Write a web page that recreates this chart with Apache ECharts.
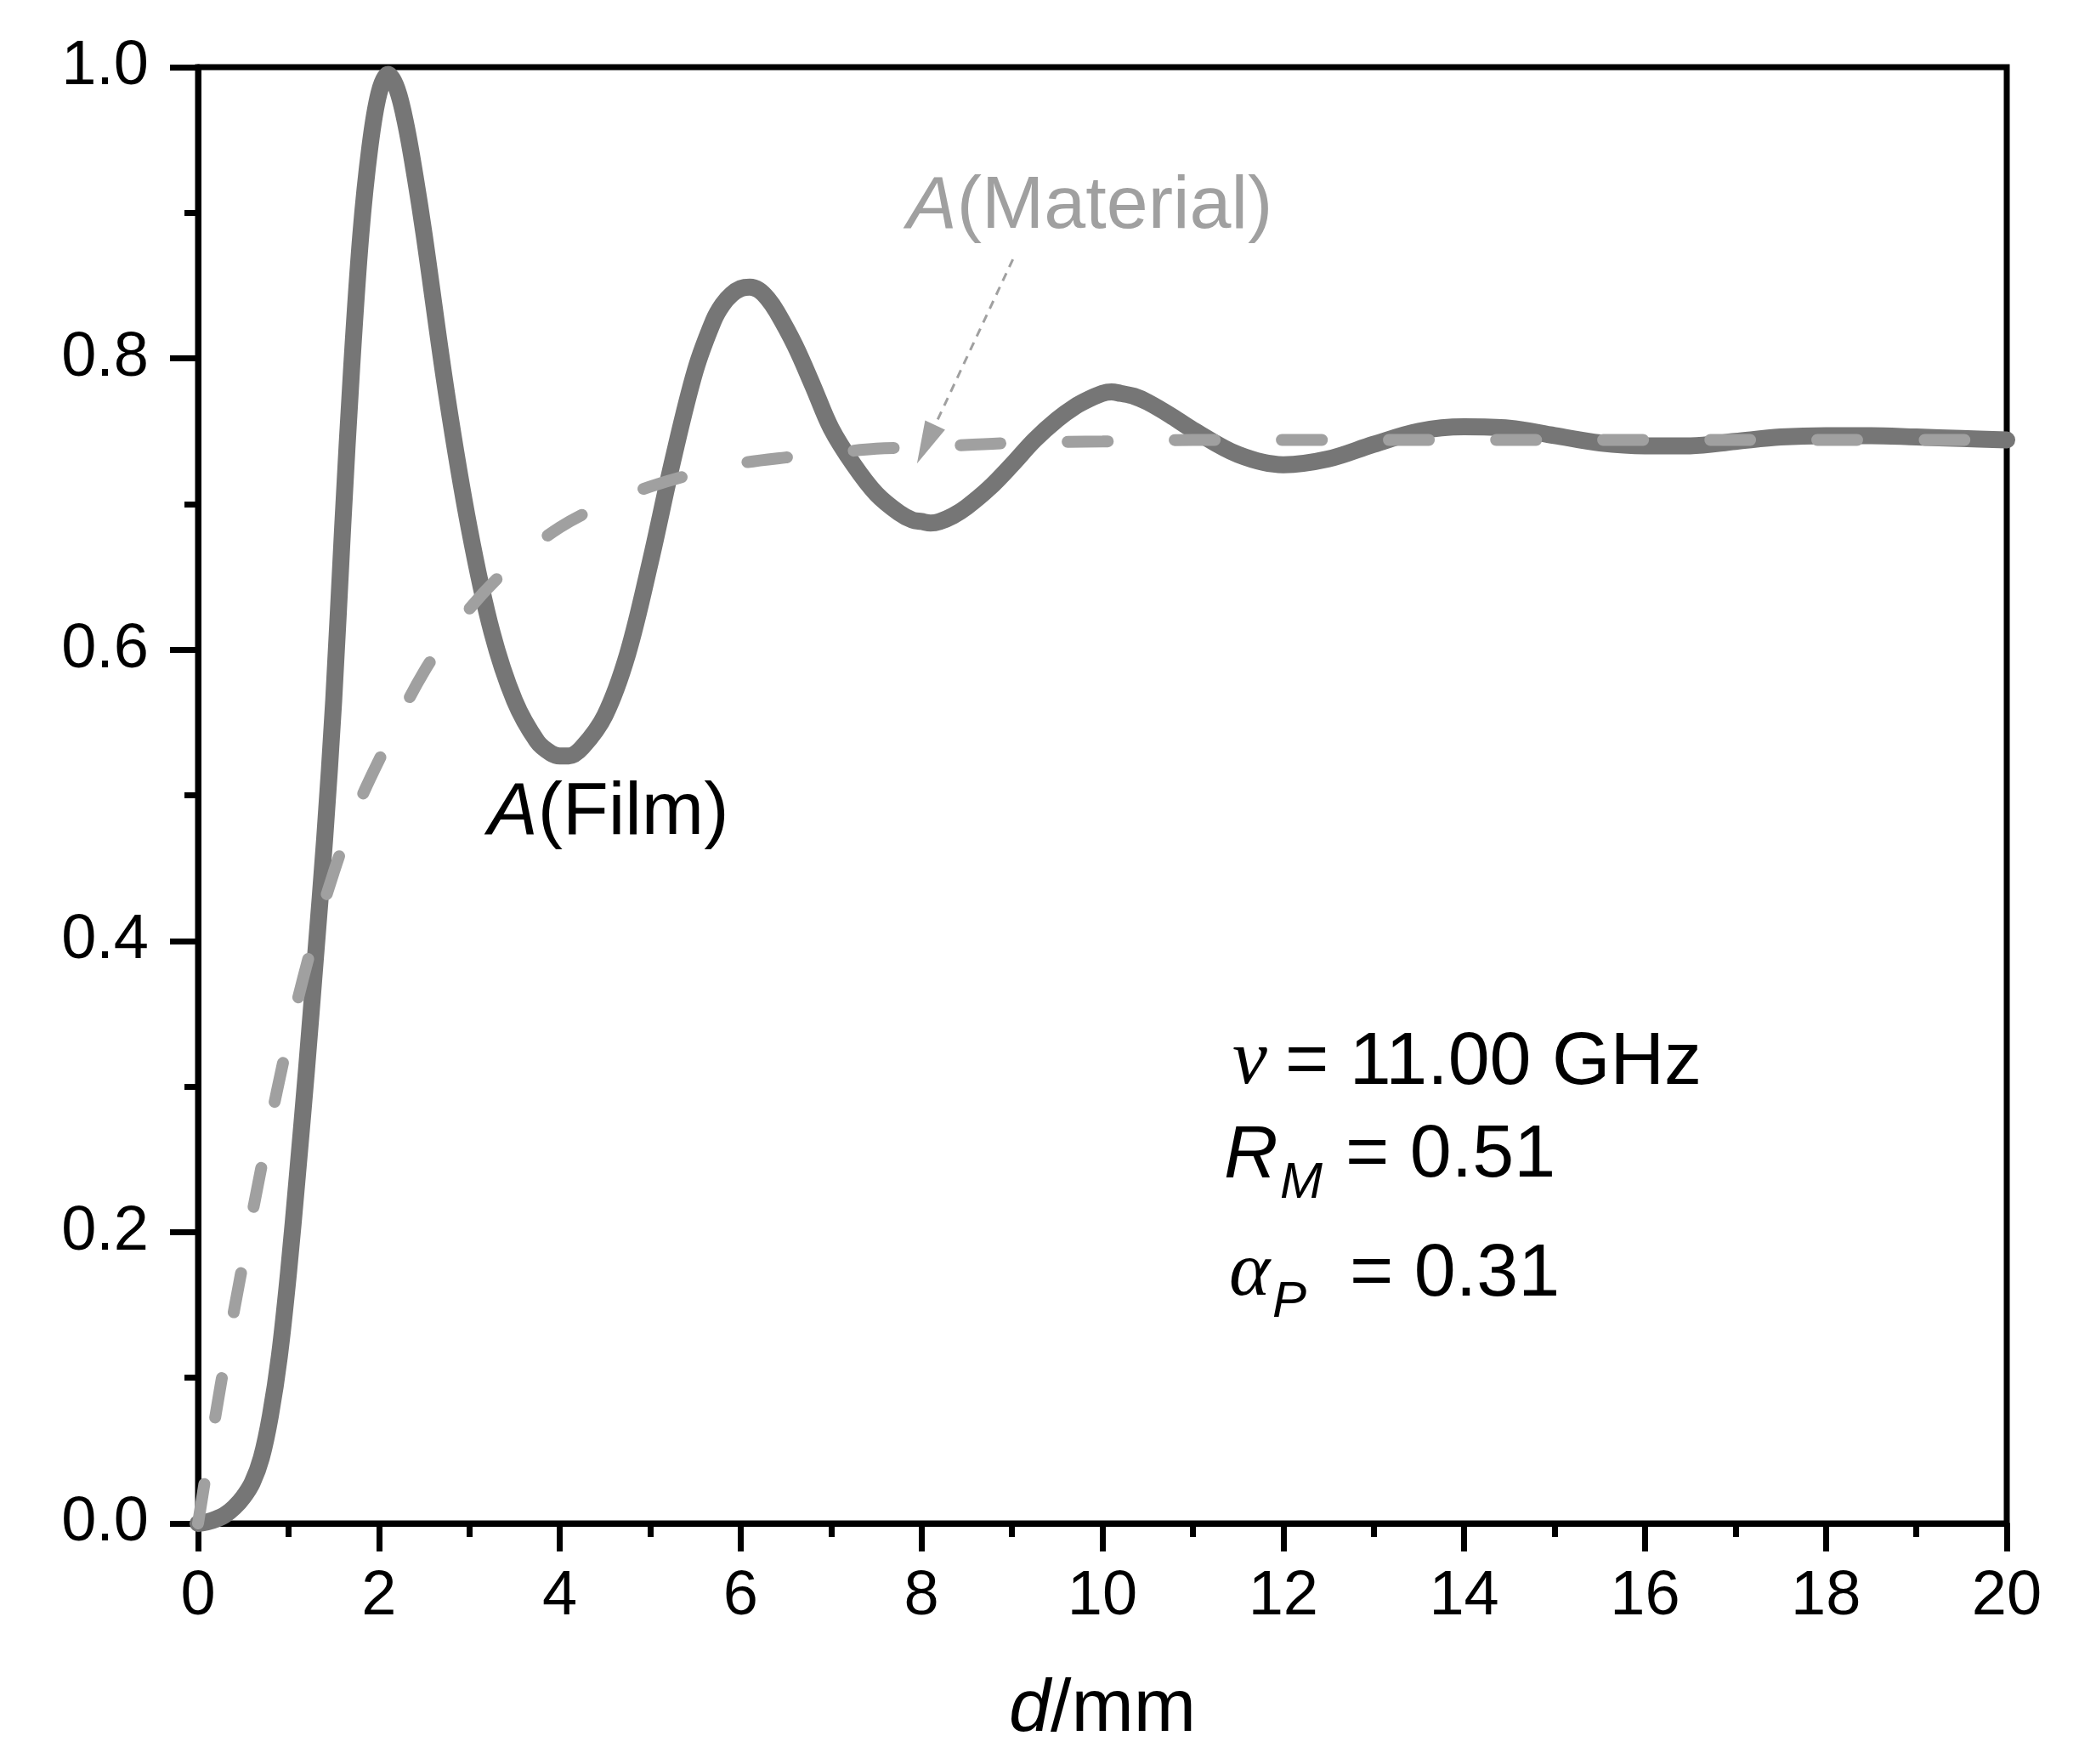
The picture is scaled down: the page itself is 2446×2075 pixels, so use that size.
<!DOCTYPE html>
<html>
<head>
<meta charset="utf-8">
<script src="https://cdn.jsdelivr.net/npm/echarts@6/dist/echarts.min.js"></script>
<style>
  html, body { margin: 0; padding: 0; background: #fff; }
  #chart { width: 2446px; height: 2075px; }
</style>
</head>
<body>
<div id="chart"></div>
<script>
// A(Film): absorption of the film vs thickness d
let filmD = [0, 0.1, 0.2, 0.3, 0.4, 0.5, 0.6, 0.7, 0.8, 0.9, 1.0, 1.1, 1.2, 1.3, 1.4, 1.5, 1.6, 1.7, 1.8, 1.9,
  2.0, 2.1, 2.2, 2.3, 2.4, 2.5, 2.75, 3.0, 3.25, 3.5, 3.75, 3.9, 4.0, 4.1, 4.25, 4.5, 4.75, 5.0, 5.25, 5.5,
  5.7, 5.8, 5.9, 6.0, 6.1, 6.2, 6.3, 6.4, 6.6, 6.8, 7.0, 7.25, 7.5, 7.75, 7.9, 8.0, 8.1, 8.2, 8.35, 8.5,
  8.75, 9.0, 9.25, 9.5, 9.7, 9.85, 10.0, 10.1, 10.2, 10.35, 10.5, 10.75, 11.0, 11.5, 12.0, 12.5, 13.0, 13.5,
  14.0, 14.5, 15.0, 15.5, 16.0, 16.5, 17.0, 17.5, 18.0, 18.5, 19.0, 19.5, 20.0];
let filmA = [0, 0.001, 0.003, 0.006, 0.011, 0.018, 0.028, 0.045, 0.074, 0.115, 0.172, 0.24, 0.312, 0.39, 0.47, 0.565, 0.685, 0.795, 0.885, 0.945,
  0.982, 0.995, 0.985, 0.96, 0.925, 0.885, 0.775, 0.683, 0.612, 0.565, 0.537, 0.529, 0.527, 0.527, 0.533, 0.555, 0.597, 0.66, 0.73, 0.792,
  0.826, 0.837, 0.844, 0.848, 0.849, 0.847, 0.841, 0.832, 0.809, 0.781, 0.752, 0.727, 0.707, 0.694, 0.689, 0.688, 0.687, 0.688, 0.692, 0.698,
  0.711, 0.727, 0.744, 0.758, 0.767, 0.772, 0.776, 0.777, 0.776, 0.774, 0.77, 0.761, 0.751, 0.734, 0.727, 0.731, 0.741, 0.75,
  0.753, 0.752, 0.747, 0.742, 0.74, 0.74, 0.743, 0.746, 0.747, 0.747, 0.746, 0.745, 0.744];

// A(Material)
let matD = [0, 0.25, 0.5, 0.75, 1.0, 1.25, 1.5, 1.75, 2.0, 2.5, 3.0, 3.5, 4.0, 4.5, 5.0, 5.5, 6.0, 6.5, 7.0, 7.5, 8.0,
  9.0, 10.0, 11.0, 12, 14, 16, 18, 20];
let matA = [0, 0.095, 0.18, 0.26, 0.333, 0.395, 0.447, 0.49, 0.524, 0.585, 0.628, 0.66, 0.684, 0.7, 0.712, 0.721, 0.728, 0.732, 0.735, 0.738, 0.739,
  0.742, 0.743, 0.744, 0.744, 0.744, 0.744, 0.744, 0.744];

// arrow from the A(Material) label to the dashed curve
let arrowFrom = [9.01, 0.868];
let arrowTo = [8.05, 0.741];

let sans = '"Liberation Sans", Arial, sans-serif';
let serif = '"Liberation Serif", "Times New Roman", serif';

let filmData = filmD.map((d, i) => [d, filmA[i]]);
let matData = matD.map((d, i) => [d, matA[i]]);

let chart = echarts.init(document.getElementById('chart'));

// pixel y of the text centre from its baseline
function mid(baseline, size) { return baseline - 0.35 * size; }

function txt(x, baseline, size, text, opts) {
  opts = opts || {};
  let fam = opts.family || sans;
  let it = opts.italic ? 'italic ' : '';
  let style = {
    x: x,
    y: mid(baseline, size),
    text: text,
    font: it + size + 'px ' + fam,
    fill: opts.color || '#000',
    align: 'left',
    verticalAlign: 'middle'
  };
  if (opts.rich) {
    style.rich = opts.rich;
  }
  return { type: 'text', silent: true, z: 100, style: style };
}

let option = {
  animation: false,
  backgroundColor: '#fff',
  grid: {
    left: 233,
    right: 85,
    top: 79,
    bottom: 283,
    show: true,
    borderColor: '#000',
    borderWidth: 7,
    containLabel: false,
    outerBoundsMode: 'none'
  },
  xAxis: {
    type: 'value',
    min: 0,
    max: 20,
    interval: 2,
    name: '{i|d}/mm',
    nameLocation: 'middle',
    nameGap: 176,
    nameTextStyle: {
      fontSize: 88,
      fontFamily: sans,
      color: '#000',
      rich: { i: { fontStyle: 'italic', fontSize: 88, fontFamily: sans, color: '#000' } }
    },
    axisLine: { show: true, onZero: false, lineStyle: { color: '#000', width: 7 } },
    axisTick: { show: true, inside: false, length: 33, lineStyle: { color: '#000', width: 7 } },
    minorTick: { show: true, splitNumber: 2, length: 16, lineStyle: { color: '#000', width: 7 } },
    splitLine: { show: false },
    axisLabel: { fontSize: 74, fontFamily: sans, color: '#000', margin: 50 }
  },
  yAxis: {
    type: 'value',
    min: 0,
    max: 1,
    interval: 0.2,
    axisLine: { show: true, onZero: false, lineStyle: { color: '#000', width: 7 } },
    axisTick: { show: true, inside: false, length: 33, lineStyle: { color: '#000', width: 7 } },
    minorTick: { show: true, splitNumber: 2, length: 16, lineStyle: { color: '#000', width: 7 } },
    splitLine: { show: false },
    axisLabel: {
      fontSize: 74, fontFamily: sans, color: '#000', margin: 58,
      formatter: function (v) { return v.toFixed(1); }
    }
  },
  series: [{
    name: 'A(Film)',
    type: 'line',
    data: filmData,
    smooth: 0.35,
    symbol: 'none',
    clip: true,
    lineStyle: { color: '#767676', width: 20, cap: 'round', join: 'round' },
    z: 2
  }, {
    name: 'A(Material)',
    type: 'line',
    data: matData,
    smooth: 0.35,
    symbol: 'none',
    clip: true,
    lineStyle: { color: '#a0a0a0', width: 14, type: [47, 79], cap: 'round' },
    z: 3,
    markLine: {
      silent: true,
      symbol: ['none', 'triangle'],
      symbolSize: [1, 40],
      label: { show: false },
      lineStyle: { color: '#a0a0a0', width: 3, type: [10, 8] },
      data: [[
        { coord: arrowFrom, symbol: 'none' },
        { coord: arrowTo, symbol: 'triangle', symbolSize: [26, 50] }
      ]]
    }
  }],
  graphic: [
    txt(1067, 275, 88, '{i|A}(Material)', {
      color: '#a0a0a0',
      rich: { i: { font: 'italic 88px ' + sans, fill: '#a0a0a0' } }
    }),
    txt(574, 988, 88, '{i|A}(Film)', {
      rich: { i: { font: 'italic 88px ' + sans, fill: '#000' } }
    }),
    txt(1450, 1282, 92, 'ν', { italic: true, family: serif }),
    txt(1512, 1282, 88, '= 11.00 GHz'),
    txt(1440, 1391, 88, 'R', { italic: true }),
    txt(1506, 1413, 60, 'M', { italic: true }),
    txt(1583, 1391, 88, '= 0.51'),
    txt(1446, 1531, 92, 'α', { italic: true, family: serif }),
    txt(1497, 1553, 60, 'P', { italic: true }),
    txt(1588, 1531, 88, '= 0.31')
  ]
};

chart.setOption(option);
</script>
</body>
</html>
